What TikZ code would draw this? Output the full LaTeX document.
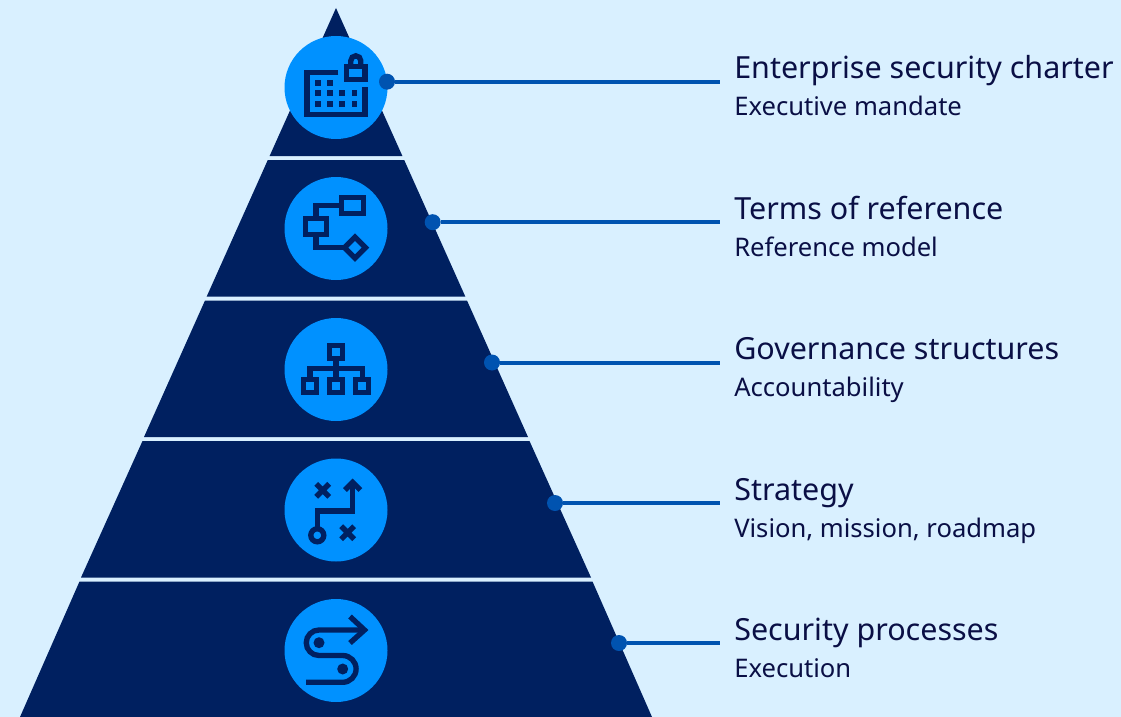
\documentclass[tikz,border=0pt]{standalone}
\usepackage{fontspec}
\setmainfont{Noto Sans}
\definecolor{bgc}{HTML}{D9F0FF}
\definecolor{navy}{HTML}{002060}
\definecolor{disc}{HTML}{0091FF}
\definecolor{linkc}{HTML}{0053B0}
\definecolor{inkc}{HTML}{0A0F45}
\tikzset{
  band/.style={fill=navy,draw=none},
  disc/.style={circle,fill=disc,draw=none,minimum size=77.25pt,inner sep=0pt},
  dotn/.style={circle,fill=linkc,draw=none,minimum size=12pt,inner sep=0pt},
  link/.style={draw=linkc,line width=3pt},
  ico/.style={draw=navy,line width=4pt,miter limit=10},
  icof/.style={fill=navy,draw=none},
  head/.style={anchor=base west,inner sep=0pt,text=inkc,font=\fontsize{22.85pt}{28pt}\selectfont},
  subh/.style={anchor=base west,inner sep=0pt,text=inkc,font=\fontsize{19.2pt}{22pt}\selectfont},
}
\begin{document}
\begin{tikzpicture}[x=0.75pt,y=-0.75pt]
\path[use as bounding box,fill=bgc] (0,0) rectangle (1121,717);
% pyramid
\path[band] (336,8) -- (402.4,156) -- (269.6,156) -- cycle;
\path[band] (267.8,160) -- (404.2,160) -- (465.3,296.5) -- (206.7,296.5) -- cycle;
\path[band] (205,300.5) -- (467,300.5) -- (528,437) -- (144,437) -- cycle;
\path[band] (142.5,441) -- (529.5,441) -- (591,577.5) -- (81,577.5) -- cycle;
\path[band] (79.5,581.5) -- (592.5,581.5) -- (652,717) -- (20,717) -- cycle;
% discs
\node[disc] (d1) at (336,87.5) {};
\node[disc] (d2) at (336,228.5) {};
\node[disc] (d3) at (336,369.5) {};
\node[disc] (d4) at (336,510) {};
\node[disc] (d5) at (336,650.5) {};
% connectors
\node[dotn] (p1) at (387,81.7) {};
\node[dotn] (p2) at (432.7,222.2) {};
\node[dotn] (p3) at (492,362.5) {};
\node[dotn] (p4) at (555,503) {};
\node[dotn] (p5) at (619,643) {};
\coordinate (e1) at (720,81.7);
\coordinate (e2) at (720,222.2);
\coordinate (e3) at (720,362.5);
\coordinate (e4) at (720,503);
\coordinate (e5) at (720,643);
\draw[link] (p1) -- (e1);
\draw[link] (p2) -- (e2);
\draw[link] (p3) -- (e3);
\draw[link] (p4) -- (e4);
\draw[link] (p5) -- (e5);
% icon 1
\draw[ico] (338.3,72.5) -- (307,72.5) -- (307,114.3) -- (365,114.3) -- (365,87.3);
\draw[ico] (346.5,66.5) rectangle (365,79.2);
\draw[ico] (350.8,66) -- (350.8,60.8) arc (180:360:5) -- (360.8,66);
\foreach \px/\py in {317.7/83,329.7/83,
  317.7/93.3,329.7/93.3,342/93.3,354.3/93.3,
  317.7/104,329.7/104,342/104,354.3/104}
  \path[icof] (\px-2.8,\py-2.8) rectangle (\px+2.8,\py+2.8);
% icon 2
\draw[ico] (341.8,197.5) rectangle (363.2,213.2);
\draw[ico] (305.2,218.5) rectangle (326.5,234.2);
\draw[ico] (341.8,205.5) -- (316,205.5) -- (316,218.5);
\draw[ico] (316,234.2) -- (316,247.5) -- (344.5,247.5);
\draw[ico] (344.5,247.7) -- (355,237.2) -- (365.5,247.7) -- (355,258.2) -- cycle;
% icon 3
\draw[ico] (329.5,345.8) rectangle (342.5,358.5);
\draw[ico] (303.5,379.8) rectangle (316.5,392.5);
\draw[ico] (329.5,379.8) rectangle (342.5,392.5);
\draw[ico] (355.8,379.8) rectangle (368.8,392.5);
\draw[ico] (336,358.5) -- (336,379.8);
\draw[ico] (310,379.8) -- (310,368.3) -- (362.3,368.3) -- (362.3,379.8);
% icon 4
\draw[ico] (316.2,483.8) -- (329.2,496.8) (316.2,496.8) -- (329.2,483.8);
\draw[ico] (341.2,526.2) -- (354.2,539.2) (341.2,539.2) -- (354.2,526.2);
\draw[ico] (352.7,482) -- (352.7,511) -- (317.2,511) -- (317.2,529);
\draw[ico] (345,490) -- (352.7,482.3) -- (360.4,490);
\draw[ico] (317.3,535.3) circle (6.5);
% icon 5
\draw[ico] (364,630) -- (319,630) arc (270:90:12.75) -- (342.7,655.5) arc (-90:90:13.4) -- (306,682.3);
\draw[ico] (350,616.5) -- (364.5,630) -- (350,643);
\path[icof] (319,642.7) circle (5.5);
\path[icof] (342.7,669) circle (5.5);
% labels
\node[head] (t1) at (734,78.2) {Enterprise security charter};
\node[subh] (s1) at (734,115.8) {Executive mandate};
\node[head] (t2) at (734,219) {Terms of reference};
\node[subh] (s2) at (734,256.3) {Reference model};
\node[head] (t3) at (734,359.5) {Governance structures};
\node[subh] (s3) at (734,396.6) {Accountability};
\node[head] (t4) at (734,500) {Strategy};
\node[subh] (s4) at (734,537.4) {Vision, mission, roadmap};
\node[head] (t5) at (734,640.4) {Security processes};
\node[subh] (s5) at (734,677.6) {Execution};
\end{tikzpicture}
\end{document}
